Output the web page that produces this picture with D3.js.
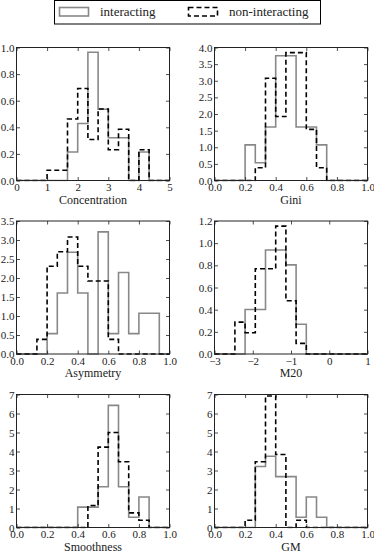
<!DOCTYPE html>
<html>
<head>
<meta charset="utf-8">
<script src="https://cdn.jsdelivr.net/npm/d3@7"></script>
<style>
  body { margin: 0; background: #fff; }
  svg { display: block; font-family: "Liberation Serif", serif; }
  .tick text { font-family: "Liberation Serif", serif; font-size: 11px; fill: #222; }
</style>
</head>
<body>
<div id="chart"></div>
<script>
var W = 374, H = 554;

// 15 bins per panel, normalised histograms
var concentrationInt = [0,0,0,0,0,0.214,0.429,0.964,0.536,0.321,0.321,0,0.214,0,0];
var concentrationNon = [0,0,0,0.077,0.077,0.462,0.692,0.308,0.538,0.231,0.385,0,0.231,0,0];
var giniInt = [0,0,0,1.071,0.536,1.607,3.75,3.75,1.607,1.607,1.071,0,0,0,0];
var giniNon = [0,0,0,0,0.385,3.077,1.923,3.846,3.846,1.538,0.385,0,0,0,0];
var asymmetryInt = [0,0,0,0.536,1.607,2.679,1.607,0,3.214,0.536,2.143,0.536,1.071,1.071,0];
var asymmetryNon = [0,0,0.385,2.308,2.692,3.077,2.308,1.923,1.923,0.385,0,0,0,0,0];
var m20Int = [0,0,0,0.402,0.402,0.938,0.938,0.804,0.268,0,0,0,0,0,0];
var m20Non = [0,0,0.288,0.192,0.769,0.769,1.154,0.481,0.096,0,0,0,0,0,0];
var smoothnessInt = [0,0,0,0,0,0,1.071,1.071,2.143,6.429,2.143,0.536,1.607,0,0];
var smoothnessNon = [0,0,0,0,0,0,0,1.154,4.231,5.0,3.462,0.769,0.385,0,0];
var gmInt = [0,0,0,0,3.214,3.75,2.679,2.679,0.536,1.607,0.536,0,0,0,0];
var gmNon = [0,0,0,0.385,3.462,6.923,3.846,0,0.385,0,0,0,0,0,0];

var xTicksUnit = [0,0.2,0.4,0.6,0.8,1.0];
var panels = [
  {label: "Concentration", xdom: [0,5], ymax: 1.0, xt: [0,1,2,3,4,5], xf: "d", yt: [0,0.2,0.4,0.6,0.8,1.0], yf: ".1f", a: concentrationInt, b: concentrationNon},
  {label: "Gini", xdom: [0,1], ymax: 4.0, xt: xTicksUnit, xf: ".1f", yt: [0,0.5,1,1.5,2,2.5,3,3.5,4], yf: ".1f", a: giniInt, b: giniNon},
  {label: "Asymmetry", xdom: [0,1], ymax: 3.5, xt: xTicksUnit, xf: ".1f", yt: [0,0.5,1,1.5,2,2.5,3,3.5], yf: ".1f", a: asymmetryInt, b: asymmetryNon},
  {label: "M20", xdom: [-3,1], ymax: 1.2, xt: [-3,-2,-1,0,1], xf: "d", yt: [0,0.2,0.4,0.6,0.8,1.0,1.2], yf: ".1f", a: m20Int, b: m20Non},
  {label: "Smoothness", xdom: [0,1], ymax: 7, xt: xTicksUnit, xf: ".1f", yt: [0,1,2,3,4,5,6,7], yf: "d", a: smoothnessInt, b: smoothnessNon},
  {label: "GM", xdom: [0,1], ymax: 7, xt: xTicksUnit, xf: ".1f", yt: [0,1,2,3,4,5,6,7], yf: "d", a: gmInt, b: gmNon}
];

var colLeft = [16.5, 214.5], pw = 153;
var rowTop = [47.5, 221, 394.5], ph = 133;
var serif = "Liberation Serif, serif";

var svg = d3.select("#chart").append("svg")
  .attr("width", W).attr("height", H);

// legend
var leg = svg.append("g");
leg.append("rect").attr("x", 54.5).attr("y", 0.5).attr("width", 266).attr("height", 23.5)
  .attr("fill", "#fff").attr("stroke", "#000").attr("stroke-width", 1);
leg.append("rect").attr("x", 59.5).attr("y", 7.5).attr("width", 29).attr("height", 8.5)
  .attr("fill", "none").attr("stroke", "#888").attr("stroke-width", 1.6);
leg.append("text").attr("x", 100).attr("y", 16).attr("font-size", 13).attr("fill", "#222").text("interacting");
leg.append("rect").attr("x", 188.5).attr("y", 7.5).attr("width", 29).attr("height", 8.5)
  .attr("fill", "none").attr("stroke", "#000").attr("stroke-width", 1.6).attr("stroke-dasharray", "5,3");
leg.append("text").attr("x", 229).attr("y", 16).attr("font-size", 13).attr("fill", "#222").text("non-interacting");

function stepPath(vals, x, y, dom) {
  var n = vals.length, w = (dom[1] - dom[0]) / n;
  var pts = [[x(dom[0]), y(0)]];
  for (var i = 0; i < n; i++) {
    pts.push([x(dom[0] + i * w), y(vals[i])]);
    pts.push([x(dom[0] + (i + 1) * w), y(vals[i])]);
  }
  pts.push([x(dom[1]), y(0)]);
  return d3.line()(pts);
}

panels.forEach(function(p, i) {
  var left = colLeft[i % 2], top = rowTop[Math.floor(i / 2)];
  var g = svg.append("g").attr("transform", "translate(" + left + "," + top + ")");
  var x = d3.scaleLinear().domain(p.xdom).range([0, pw]);
  var y = d3.scaleLinear().domain([0, p.ymax]).range([ph, 0]);

  g.append("defs").append("clipPath").attr("id", "clip" + i)
    .append("rect").attr("x", -1).attr("y", -1).attr("width", pw + 2).attr("height", ph + 2);

  var hist = g.append("g").attr("clip-path", "url(#clip" + i + ")");
  hist.append("path").attr("d", stepPath(p.a, x, y, p.xdom))
    .attr("fill", "none").attr("stroke", "#888").attr("stroke-width", 1.6);
  hist.append("path").attr("d", stepPath(p.b, x, y, p.xdom))
    .attr("fill", "none").attr("stroke", "#000").attr("stroke-width", 1.6)
    .attr("stroke-dasharray", "5,3");

  g.append("g").attr("transform", "translate(0," + ph + ")")
    .call(d3.axisBottom(x).tickValues(p.xt).tickFormat(d3.format(p.xf)).tickSize(-3.5).tickSizeOuter(0).tickPadding(3))
    .attr("font-family", serif).attr("font-size", 11);
  g.append("g").call(d3.axisTop(x).tickValues(p.xt).tickFormat("").tickSize(-3.5).tickSizeOuter(0));
  g.append("g").call(d3.axisLeft(y).tickValues(p.yt).tickFormat(d3.format(p.yf)).tickSize(-3.5).tickSizeOuter(0).tickPadding(2))
    .attr("font-family", serif).attr("font-size", 11);
  g.append("g").attr("transform", "translate(" + pw + ",0)")
    .call(d3.axisRight(y).tickValues(p.yt).tickFormat("").tickSize(-3.5).tickSizeOuter(0));
  g.selectAll(".domain").remove();
  g.selectAll(".tick line").attr("stroke", "#222").attr("stroke-width", 0.8);

  g.append("rect").attr("width", pw).attr("height", ph)
    .attr("fill", "none").attr("stroke", "#222").attr("stroke-width", 1);

  g.append("text").attr("x", pw / 2).attr("y", ph + 23).attr("text-anchor", "middle")
    .attr("font-size", 12).attr("fill", "#222").text(p.label);
});
</script>
</body>
</html>
